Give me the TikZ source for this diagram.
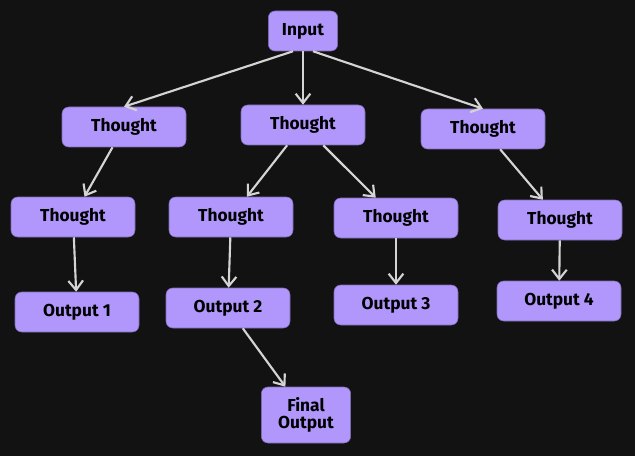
\documentclass[tikz,border=0pt]{standalone}
\usepackage{fontspec}
\setmainfont{Fira Sans}
\usetikzlibrary{arrows.meta}
\definecolor{bg}{HTML}{121212}
\definecolor{nodefill}{HTML}{B197FC}
\definecolor{edge}{HTML}{D4D4D4}
\begin{document}
\begin{tikzpicture}[x=0.75pt,y=-0.75pt,
  box/.style={draw=nodefill!70!black,fill=nodefill,rounded corners=5pt,minimum height=30pt,minimum width=#1,align=center,font=\fontsize{13}{15}\selectfont\bfseries,text=black},
  box/.default=93pt,
  arr/.style={draw=edge,line width=1.6pt,-{Straight Barb[length=7pt,width=11pt]}}]
\fill[bg] (0,0) rectangle (635,456);
\useasboundingbox (0,0) rectangle (635,456);
\node[box=52pt] (in) at (303,31) {Input};
\node[box] (t1) at (124,127) {Thought};
\node[box] (t2) at (303,125) {Thought};
\node[box] (t3) at (483,129) {Thought};
\node[box] (t11) at (73,217) {Thought};
\node[box] (t21) at (231,217) {Thought};
\node[box] (t22) at (396,218) {Thought};
\node[box] (t31) at (560,220) {Thought};
\node[box] (o1) at (77,312) {Output 1};
\node[box] (o2) at (228,308) {Output 2};
\node[box] (o3) at (396,305) {Output 3};
\node[box] (o4) at (559,301) {Output 4};
\node[box=67pt,minimum height=42pt] (f) at (306,415) {Final\\[-2pt]Output};
\draw[arr] (in.south) ++(-10,0) -- (t1.north);
\draw[arr] (in) -- (t2);
\draw[arr] (in.south) ++(10,0) -- (t3.north);
\draw[arr] (t1) -- (t11);
\draw[arr] (t2) -- (t21);
\draw[arr] (t2) -- (t22);
\draw[arr] (t3) -- (t31);
\draw[arr] (t11) -- (o1);
\draw[arr] (t21) -- (o2);
\draw[arr] (t22) -- (o3);
\draw[arr] (t31) -- (o4);
\draw[arr] (o2) -- (f);
\end{tikzpicture}
\end{document}
